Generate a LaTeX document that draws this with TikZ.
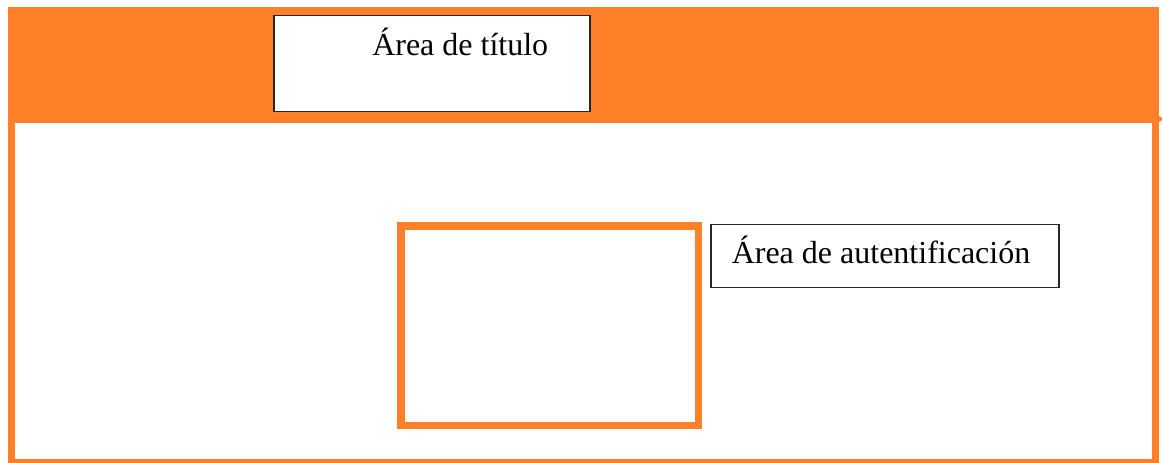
\documentclass[tikz,border=0pt]{standalone}
\usepackage{fontspec}
\setmainfont{Liberation Serif}
\definecolor{hdrorange}{RGB}{255,128,40}
\begin{document}
\begin{tikzpicture}[x=0.75pt,y=-0.75pt,
  labelbox/.style={draw=black!85,line width=1.1pt,fill=white,rectangle,inner sep=0pt},
  labeltext/.style={anchor=base west,inner sep=0pt,font=\fontsize{24pt}{28pt}\selectfont,text=black},
  framestroke/.style={draw=hdrorange,line width=5.25pt}]
\useasboundingbox (0,0) rectangle (1163,463);
\fill[white] (0,0) rectangle (1163,463);
% header band
\fill[hdrorange] (8,7) rectangle (1159,123);
\fill[hdrorange] (1159.5,119) circle (2.6);
% page frame
\coordinate (f1) at (11.5,120);
\coordinate (f2) at (11.5,462);
\coordinate (f3) at (1155.5,462);
\coordinate (f4) at (1155.5,120);
\draw[framestroke] (f1) -- (f2) -- (f3) -- (f4);
% title box
\node[labelbox,minimum width=237pt,minimum height=72pt] (titlebox) at (432,63.5) {};
\node[labeltext] (titletext) at (372,56) {Área de título};
% authentication square
\node[rectangle,draw=hdrorange,line width=5.5pt,fill=white,inner sep=0pt,
      minimum width=223.1pt,minimum height=149.6pt] (authsq) at (549.75,325.75) {};
% authentication label
\node[labelbox,line width=0.9pt,minimum width=261pt,minimum height=47.25pt] (authbox) at (885,256) {};
\node[labeltext] (authtext) at (731.5,263) {Área de autentificación};
\end{tikzpicture}
\end{document}
